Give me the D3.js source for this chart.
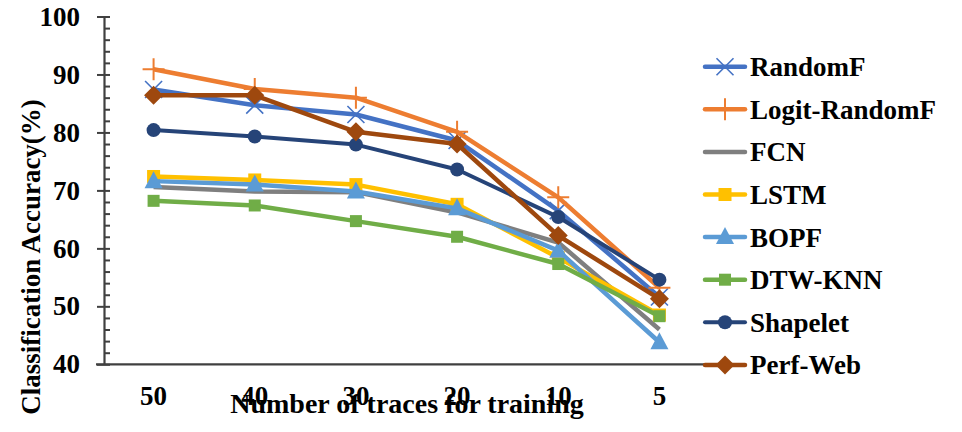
<!DOCTYPE html>
<html>
<head>
<meta charset="utf-8">
<script src="https://cdn.jsdelivr.net/npm/d3@7"></script>
<style>
  body { margin: 0; background: #fff; }
  svg text { font-family: "Liberation Serif", "Times New Roman", serif; font-weight: bold; fill: #000; }
</style>
</head>
<body>
<svg id="chart" width="962" height="432"></svg>
<script>
// categories (x axis)
const traces = ["50", "40", "30", "20", "10", "5"];

// series values
const randomF      = [87.4, 84.7, 83.1, 78.6, 66.5, 51.6];
const logitRandomF = [90.9, 87.5, 86.0, 80.1, 68.8, 53.2];
const fcn          = [70.6, 69.8, 69.7, 66.2, 61.0, 46.0];
const lstm         = [72.4, 71.8, 71.0, 67.6, 58.4, 48.5];
const bopf         = [71.6, 71.0, 69.8, 66.9, 59.6, 43.8];
const dtwKnn       = [68.2, 67.4, 64.7, 62.0, 57.3, 48.3];
const shapelet     = [80.4, 79.3, 77.9, 73.6, 65.4, 54.6];
const perfWeb      = [86.4, 86.4, 80.1, 78.0, 62.2, 51.3];

const yTicks = [40, 50, 60, 70, 80, 90, 100];

const series = [
    {name: "RandomF",       values: randomF,      color: "#4472C4", marker: "x",        width: 4.5},
    {name: "Logit-RandomF", values: logitRandomF, color: "#ED7D31", marker: "plus",     width: 4.5},
    {name: "FCN",           values: fcn,          color: "#7F7F7F", marker: "none",     width: 4.5},
    {name: "LSTM",          values: lstm,         color: "#FFC000", marker: "square",   width: 4.5, size: 13},
    {name: "BOPF",          values: bopf,         color: "#5B9BD5", marker: "triangle", width: 4.5},
    {name: "DTW-KNN",       values: dtwKnn,       color: "#70AD47", marker: "square",   width: 4.5, size: 12},
    {name: "Shapelet",      values: shapelet,     color: "#264478", marker: "circle",   width: 4},
    {name: "Perf-Web",      values: perfWeb,      color: "#9E480E", marker: "diamond",  width: 4.5}
];

const svg = d3.select("#chart");
const fontSize = 27;

const x = d3.scaleBand().domain(traces).range([103, 710]);
const y = d3.scaleLinear().domain([40, 100]).range([364.3, 16.5]);

// y axis: major ticks outside with labels
svg.append("g")
    .attr("transform", "translate(104,0)")
    .call(d3.axisLeft(y).tickValues(yTicks).tickSizeInner(7).tickSizeOuter(0).tickPadding(17))
    .call(g => g.select(".domain").attr("stroke", "#404040").attr("stroke-width", 2.2))
    .call(g => g.selectAll(".tick line").attr("stroke", "#404040").attr("stroke-width", 2))
    .call(g => g.selectAll(".tick text").style("font-size", fontSize + "px")
        .style("font-family", "'Liberation Serif', serif").style("font-weight", "bold"));

// inside ticks every 2 units
svg.append("g")
    .attr("transform", "translate(104,0)")
    .call(d3.axisRight(y).tickValues(d3.range(40, 101, 2)).tickSize(6).tickFormat(""))
    .call(g => g.select(".domain").remove())
    .call(g => g.selectAll(".tick line").attr("stroke", "#404040").attr("stroke-width", 2));

// x axis
svg.append("line")
    .attr("x1", 96).attr("x2", 710)
    .attr("y1", y(40)).attr("y2", y(40))
    .attr("stroke", "#404040").attr("stroke-width", 2.2);

svg.append("g").selectAll("text")
    .data(traces)
    .join("text")
    .attr("x", d => x(d) + x.bandwidth() / 2)
    .attr("y", 405)
    .attr("text-anchor", "middle")
    .style("font-size", fontSize + "px")
    .text(d => d);

// axis titles
svg.append("text")
    .attr("x", 407).attr("y", 413)
    .attr("text-anchor", "middle")
    .style("font-size", "28px")
    .text("Number of traces for training");

svg.append("text")
    .attr("transform", "translate(40,257) rotate(-90)")
    .attr("text-anchor", "middle")
    .style("font-size", fontSize + "px")
    .text("Classification Accuracy(%)");

// marker drawing
function drawMarker(g, type, cx, cy, color, s) {
    if (type === "x") {
        const r = 8.5;
        g.append("path")
            .attr("d", `M${cx - r},${cy - r}L${cx + r},${cy + r}M${cx - r},${cy + r}L${cx + r},${cy - r}`)
            .attr("stroke", color).attr("stroke-width", 1.6).attr("fill", "none");
    } else if (type === "plus") {
        const r = 11;
        g.append("path")
            .attr("d", `M${cx - r},${cy}L${cx + r},${cy}M${cx},${cy - r}L${cx},${cy + r}`)
            .attr("stroke", color).attr("stroke-width", 2).attr("fill", "none");
    } else if (type === "square") {
        const h = (s || 12) / 2;
        g.append("rect")
            .attr("x", cx - h).attr("y", cy - h).attr("width", 2 * h).attr("height", 2 * h)
            .attr("fill", color);
    } else if (type === "triangle") {
        g.append("path")
            .attr("d", `M${cx},${cy - 10}L${cx + 9},${cy + 7}L${cx - 9},${cy + 7}Z`)
            .attr("fill", color);
    } else if (type === "circle") {
        g.append("circle").attr("cx", cx).attr("cy", cy).attr("r", 7).attr("fill", color);
    } else if (type === "diamond") {
        const r = 9.5;
        g.append("path")
            .attr("d", `M${cx},${cy - r}L${cx + r},${cy}L${cx},${cy + r}L${cx - r},${cy}Z`)
            .attr("fill", color);
    }
}

const line = d3.line()
    .x((d, i) => x(traces[i]) + x.bandwidth() / 2)
    .y(d => y(d));

series.forEach(s => {
    const g = svg.append("g").attr("class", "series");
    g.append("path")
        .attr("d", line(s.values))
        .attr("fill", "none")
        .attr("stroke", s.color)
        .attr("stroke-width", s.width)
        .attr("stroke-linejoin", "round");
    s.values.forEach((v, i) => {
        drawMarker(g, s.marker, x(traces[i]) + x.bandwidth() / 2, y(v), s.color, s.size);
    });
});

// legend
const legend = svg.append("g");
series.forEach((s, i) => {
    const cy = 66.7 + i * 42.6;
    const g = legend.append("g");
    g.append("line")
        .attr("x1", 705).attr("x2", 745)
        .attr("y1", cy).attr("y2", cy)
        .attr("stroke", s.color).attr("stroke-width", s.width)
        .attr("stroke-linecap", "round");
    drawMarker(g, s.marker, 725, cy, s.color, s.size);
    g.append("text")
        .attr("x", 750).attr("y", cy)
        .attr("dy", "0.35em")
        .style("font-size", fontSize + "px")
        .text(s.name);
});
</script>
</body>
</html>
